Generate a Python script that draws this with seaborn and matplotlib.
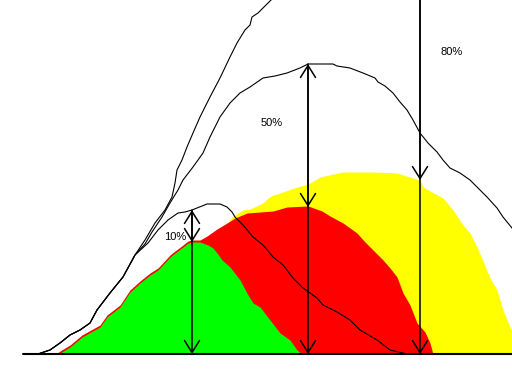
import matplotlib
matplotlib.use("Agg")
import matplotlib.pyplot as plt
import seaborn as sns
import pandas as pd

sns.set_theme(style="white")
plt.rcParams['font.family'] = ['Liberation Sans', 'DejaVu Sans']

# shared lower-left part of the three curves
shared_x = [38, 50, 60, 70, 80, 90, 97, 110, 123, 135]
shared_h = [0, 4, 11, 19, 24, 31, 44, 61, 77, 99]

# 80% curve
c80_x = [145, 155, 165, 172, 175, 177, 182, 187, 193, 200, 210, 220, 230, 237, 245, 250, 252, 258, 265, 272]
c80_h = [114, 131, 144, 157, 171, 184, 194, 207, 221, 237, 257, 276, 297, 311, 324, 329, 337, 341, 348, 355]

# 50% curve
c50_x = [145, 152, 162, 170, 178, 183, 193, 203, 210, 220, 230, 240, 250, 263, 275, 287, 300, 308, 333, 337,
         350, 363, 375, 378, 385, 393, 400, 407, 413, 420, 428, 437, 443, 450, 460, 470, 480, 487, 497, 503, 512, 516]
c50_h = [110, 122, 137, 151, 164, 174, 187, 201, 217, 237, 251, 261, 267, 276, 278, 281, 286, 290, 290, 288,
         286, 281, 276, 272, 268, 261, 252, 244, 234, 221, 211, 202, 194, 186, 181, 174, 164, 157, 146, 137, 126, 121]

# 10% curve
c10_x = [148, 158, 168, 178, 185, 192, 207, 220, 227, 232, 235, 243, 253, 263, 273, 283, 293, 303, 317, 323,
         337, 350, 360, 377, 390, 403, 406]
c10_h = [111, 124, 134, 141, 142, 144, 150, 150, 147, 142, 137, 129, 117, 109, 97, 89, 76, 66, 56, 49,
         42, 34, 24, 14, 4, 1, 0]

# filled areas
green_x = [58, 60, 70, 82, 100, 107, 120, 130, 140, 150, 158, 170, 175, 183, 188, 192, 200, 208, 213, 217,
           222, 230, 240, 248, 253, 260, 270, 280, 290, 297, 302]
green_h = [0, 1, 7, 17, 27, 37, 47, 62, 71, 79, 84, 97, 101, 107, 111, 112, 112, 109, 106, 101,
           94, 87, 74, 59, 51, 47, 34, 21, 14, 4, 0]

red_x = [56, 60, 70, 82, 100, 107, 120, 130, 140, 150, 158, 170, 175, 183, 188, 192, 200, 207, 217, 227,
         235, 247, 260, 273, 287, 308, 322, 330, 343, 357, 365, 373, 383, 390, 397, 403, 410, 417, 425, 430, 433]
red_h = [0, 3, 9, 19, 29, 39, 49, 64, 73, 81, 86, 99, 103, 109, 113, 114, 114, 118, 125, 131,
         136, 141, 142, 143, 147, 148, 143, 138, 131, 121, 112, 104, 94, 86, 77, 61, 49, 31, 22, 11, 0]

yellow_x = [200, 215, 225, 233, 243, 250, 263, 268, 273, 280, 297, 308, 317, 320, 343, 373, 397, 413, 420, 423,
            430, 443, 453, 463, 470, 477, 483, 490, 497, 503, 510, 515, 520]
yellow_h = [104, 119, 128, 138, 144, 145, 151, 156, 159, 161, 167, 170, 175, 177, 182, 182, 181, 176, 174, 167,
            163, 156, 144, 129, 121, 107, 93, 76, 64, 44, 27, 16, 0]

# arrows and labels
arrow_x = [192, 308, 420]
arrow_curve_top = [144, 290, 370]
arrow_fill_top = [112, 147, 174]
labels = ["10%", "50%", "80%"]
label_x = [175, 272, 452]
label_h = [117, 231, 302]

fig = plt.figure(figsize=(5.12, 3.84), dpi=100)
ax = fig.add_axes([0, 0, 1, 1])
ax.set_xlim(0, 512)
ax.set_ylim(-30, 354)
ax.axis("off")

ax.fill_between(yellow_x, 0, yellow_h, color="#FFFF00", lw=0, zorder=1)
ax.fill_between(red_x, 0, red_h, color="#FF0000", lw=0, zorder=2)
ax.fill_between(green_x, 0, green_h, color="#00FF00", lw=0, zorder=3)

curves = []
for name, xs, hs in [("80%", c80_x, c80_h), ("50%", c50_x, c50_h), ("10%", c10_x, c10_h)]:
    curves.append(pd.DataFrame({"x": shared_x + xs, "h": shared_h + hs, "curve": name}))
df = pd.concat(curves, ignore_index=True)
sns.lineplot(data=df, x="x", y="h", units="curve", estimator=None, sort=False,
             color="black", lw=0.8, ax=ax, zorder=5, legend=False)

# baseline
ax.plot([23, 512], [0, 0], color="black", lw=1.5, zorder=6)

style = "->,head_length=0.72,head_width=0.45"
for x, ct, ft in zip(arrow_x, arrow_curve_top, arrow_fill_top):
    if ct < 354:
        ax.annotate("", xy=(x, ct), xytext=(x, 0),
                    arrowprops=dict(arrowstyle="<->,head_length=0.72,head_width=0.45", lw=1.1,
                                    color="black", shrinkA=0, shrinkB=0), zorder=7)
    else:
        ax.annotate("", xy=(x, 0), xytext=(x, ct),
                    arrowprops=dict(arrowstyle=style, lw=1.1, color="black", shrinkA=0, shrinkB=0),
                    zorder=7, annotation_clip=False)
    ax.annotate("", xy=(x, ft), xytext=(x, ct),
                arrowprops=dict(arrowstyle=style, lw=1.1, color="black", shrinkA=0, shrinkB=0),
                zorder=7, annotation_clip=False)

for t, lx, lh in zip(labels, label_x, label_h):
    ax.text(lx, lh, t, ha="center", va="center", fontsize=8, color="black", zorder=8)

ax.set_xlabel("")
ax.set_ylabel("")
fig.savefig("out.png", dpi=100, facecolor="white")
